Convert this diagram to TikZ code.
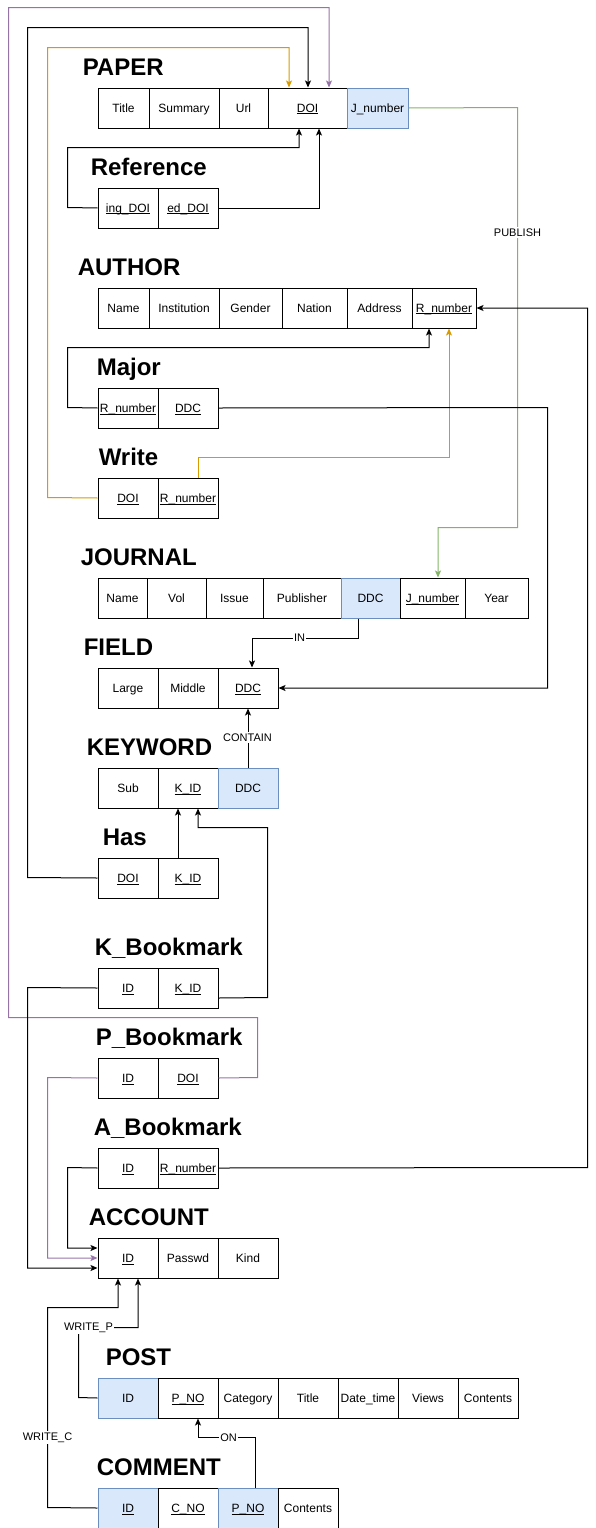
\documentclass[tikz,border=0pt]{standalone}
\usepackage{fontspec}
\setmainfont{Liberation Sans}
\usetikzlibrary{arrows.meta,calc}
\definecolor{yel}{HTML}{D79B00}
\definecolor{pur}{HTML}{9673A6}
\definecolor{grn}{HTML}{82B366}
\definecolor{keyfill}{HTML}{DAE8FC}
\definecolor{keyedge}{HTML}{6C8EBF}
\newcommand\mycell[6]{\node[#6, minimum width={(#3-#2)*0.75pt}] (#1) at (#2,#4) {#5};}
\newsavebox\ulbox
\newcommand\ul[1]{\sbox\ulbox{#1}\rlap{\rule[-1.5pt]{\wd\ulbox}{0.6pt}}\usebox\ulbox}
\tikzset{
  cell/.style={draw=black, line width=0.75pt, minimum height=30pt, inner sep=0pt,
    anchor=north west, text height=7.44pt, text depth=1pt, font=\fontsize{9}{10}\selectfont},
  keycell/.style={cell, fill=keyfill, draw=keyedge},
  ttl/.style={anchor=base west, inner sep=0pt, font=\bfseries\fontsize{18}{20}\selectfont},
  con/.style={line width=0.75pt, -{Stealth[length=5.25pt,width=4.5pt,inset=1.2pt]}},
  lbl/.style={fill=white, inner sep=1pt, font=\fontsize{8.25}{9}\selectfont},
}
\begin{document}
\begin{tikzpicture}[x=0.75pt,y=-0.75pt]
\useasboundingbox (0,0) rectangle (596,1528);
\begin{scope}[shift={(0.5,0.5)}]
% ---------- titles ----------
\node[ttl] (tPaper) at (82,75) {PAPER};
\node[ttl] (tRef) at (90,175) {Reference};
\node[ttl] (tAuthor) at (77,275) {AUTHOR};
\node[ttl] (tMajor) at (96,375) {Major};
\node[ttl] (tWrite) at (98,465) {Write};
\node[ttl] (tJournal) at (80,565) {JOURNAL};
\node[ttl] (tField) at (83,655) {FIELD};
\node[ttl] (tKeyword) at (86,755) {KEYWORD};
\node[ttl] (tHas) at (102,845) {Has};
\node[ttl] (tKB) at (94,955) {K\_Bookmark};
\node[ttl] (tPB) at (95,1045) {P\_Bookmark};
\node[ttl] (tAB) at (93,1135) {A\_Bookmark};
\node[ttl] (tAccount) at (88,1225) {ACCOUNT};
\node[ttl] (tPost) at (105,1365) {POST};
\node[ttl] (tComment) at (96,1475) {COMMENT};

% ---------- PAPER ----------
\mycell{pTitle}{97}{148}{87}{Title}{cell}
\mycell{pSum}{148}{218}{87}{Summary}{cell}
\mycell{pUrl}{218}{267}{87}{Url}{cell}
\mycell{pDOI}{267}{346}{87}{\ul{DOI}}{cell}
\mycell{pJ}{346}{407}{87}{J\_number}{keycell}
% ---------- Reference ----------
\mycell{rIng}{97}{157}{187}{\ul{ing\_DOI}}{cell}
\mycell{rEd}{157}{217}{187}{\ul{ed\_DOI}}{cell}
% ---------- AUTHOR ----------
\mycell{aName}{97}{148}{287}{Name}{cell}
\mycell{aInst}{148}{218}{287}{Institution}{cell}
\mycell{aGen}{218}{281}{287}{Gender}{cell}
\mycell{aNat}{281}{346}{287}{Nation}{cell}
\mycell{aAddr}{346}{411}{287}{Address}{cell}
\mycell{aR}{411}{475}{287}{\ul{R\_number}}{cell}
% ---------- Major ----------
\mycell{mR}{97}{157}{387}{\ul{R\_number}}{cell}
\mycell{mDDC}{157}{217}{387}{\ul{DDC}}{cell}
% ---------- Write ----------
\mycell{wDOI}{97}{157}{477}{\ul{DOI}}{cell}
\mycell{wR}{157}{217}{477}{\ul{R\_number}}{cell}
% ---------- JOURNAL ----------
\mycell{jName}{97}{146}{577}{Name}{cell}
\mycell{jVol}{146}{205}{577}{Vol}{cell}
\mycell{jIss}{205}{262}{577}{Issue}{cell}
\mycell{jPub}{262}{340}{577}{Publisher}{cell}
\mycell{jDDC}{340}{399}{577}{DDC}{keycell}
\mycell{jJ}{399}{464}{577}{\ul{J\_number}}{cell}
\mycell{jYear}{464}{527}{577}{Year}{cell}
% ---------- FIELD ----------
\mycell{fL}{97}{157}{667}{Large}{cell}
\mycell{fM}{157}{217}{667}{Middle}{cell}
\mycell{fDDC}{217}{277}{667}{\ul{DDC}}{cell}
% ---------- KEYWORD ----------
\mycell{kSub}{97}{157}{767}{Sub}{cell}
\mycell{kID}{157}{217}{767}{\ul{K\_ID}}{cell}
\mycell{kDDC}{217}{277}{767}{DDC}{keycell}
% ---------- Has ----------
\mycell{hDOI}{97}{157}{857}{\ul{DOI}}{cell}
\mycell{hK}{157}{217}{857}{\ul{K\_ID}}{cell}
% ---------- K_Bookmark ----------
\mycell{kbID}{97}{157}{967}{\ul{ID}}{cell}
\mycell{kbK}{157}{217}{967}{\ul{K\_ID}}{cell}
% ---------- P_Bookmark ----------
\mycell{pbID}{97}{157}{1057}{\ul{ID}}{cell}
\mycell{pbDOI}{157}{217}{1057}{\ul{DOI}}{cell}
% ---------- A_Bookmark ----------
\mycell{abID}{97}{157}{1147}{\ul{ID}}{cell}
\mycell{abR}{157}{217}{1147}{\ul{R\_number}}{cell}
% ---------- ACCOUNT ----------
\mycell{acID}{97}{157}{1237}{\ul{ID}}{cell}
\mycell{acPw}{157}{217}{1237}{Passwd}{cell}
\mycell{acKind}{217}{277}{1237}{Kind}{cell}
% ---------- POST ----------
\mycell{poID}{97}{157}{1377}{ID}{keycell}
\mycell{poNO}{157}{217}{1377}{\ul{P\_NO}}{cell}
\mycell{poCat}{217}{277}{1377}{Category}{cell}
\mycell{poTit}{277}{337}{1377}{Title}{cell}
\mycell{poDate}{337}{397}{1377}{Date\_time}{cell}
\mycell{poViews}{397}{457}{1377}{Views}{cell}
\mycell{poCont}{457}{517}{1377}{Contents}{cell}
% ---------- COMMENT ----------
\mycell{coID}{97}{157}{1487}{\ul{ID}}{keycell}
\mycell{coNO}{157}{217}{1487}{\ul{C\_NO}}{cell}
\mycell{coP}{217}{277}{1487}{\ul{P\_NO}}{keycell}
\mycell{coCont}{277}{337}{1487}{Contents}{cell}

% ---------- connectors ----------
\draw[con] (rIng.west) -- (67,207) -- (67,147) -| ($(pDOI.south)+(-8.5,0)$);
\draw[con] (rEd.east) -| ($(pDOI.south)+(11.5,0)$);
\draw[con] (hDOI.west) -- (27,877) -- (27,27) -| ($(pDOI.north)+(0.5,0)$);
\draw[con,yel] (wDOI.west) -- (47,497) -- (47,47) -| ($(pDOI.north)+(-18.5,0)$);
\draw[con,pur] (pbDOI.east) -- (257,1077) -- (257,1017) -- (8,1017) -- (8,7) -| ($(pDOI.north)+(21.5,0)$);
\draw[con,grn] (pJ.east) -- (517,107) -- (517,527) -| ($(jJ.north)+(5.5,0)$);
\draw[con] (mR.west) -- (67,407) -- (67,347) -| ($(aR.south)+(-15,0)$);
\draw[con,yel] ($(wR.north)+(10,0)$) -- ++(0,-20) -| ($(aR.south)+(5,0)$);
\draw[con] (mDDC.east) -- (547,407) |- (fDDC.east);
\draw[con] (abR.east) -- (587,1167) |- (aR.east);
\draw[con] ($(jDDC.south)+(-12.5,0)$) -- ++(0,20) -| ($(fDDC.north)+(4,0)$);
\draw[con] (kDDC.north) -- (kDDC.north |- fDDC.south);
\draw[con] ($(hK.north)+(-10,0)$) -- ($(kID.south)+(-10,0)$);
\draw[con] ($(kbK.east)+(0,10)$) -- (267,997) -- (267,827) -| ($(kID.south)+(10,0)$);
\draw[con] (kbID.west) -- (27,987) |- ($(acID.west)+(0,10)$);
\draw[con,pur] (pbID.west) -- (47,1077) |- (acID.west);
\draw[con] (abID.west) -- (67,1167) |- ($(acID.west)+(0,-10)$);
\draw[con] (poID.west) -- (78,1397) -- (78,1327) -| ($(acID.south)+(10,0)$);
\draw[con] (coID.west) -- (47,1507) -- (47,1307) -| ($(acID.south)+(-10,0)$);
\draw[con] ($(coP.north)+(7,0)$) -- ++(0,-50) -| ($(poNO.south)+(10,0)$);

% ---------- labels ----------
\node[lbl] (lPub) at (517,232) {PUBLISH};
\node[lbl] (lIn) at (299,637) {IN};
\node[lbl] (lContain) at (247,737) {CONTAIN};
\node[lbl] (lWP) at (88,1327) {WRITE\_P};
\node[lbl] (lWC) at (47,1437) {WRITE\_C};
\node[lbl] (lOn) at (228,1437) {ON};
\end{scope}
\end{tikzpicture}
\end{document}
